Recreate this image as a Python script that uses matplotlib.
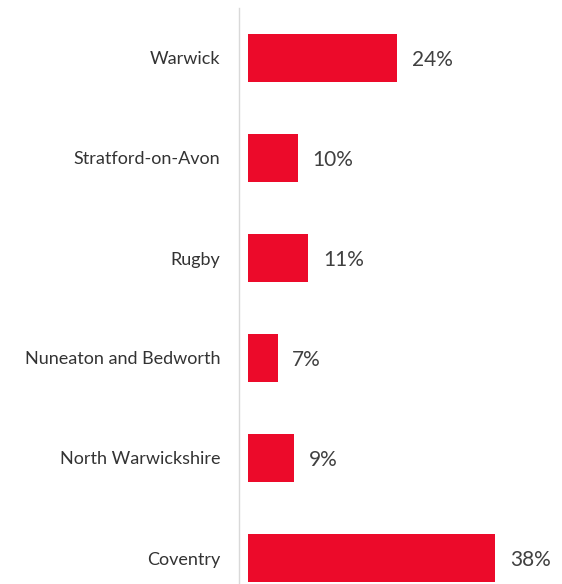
import matplotlib
matplotlib.use('Agg')
import matplotlib.pyplot as plt
from matplotlib.lines import Line2D

# Data (bottom to top)
areas = ['Coventry', 'North Warwickshire', 'Nuneaton and Bedworth',
         'Rugby', 'Stratford-on-Avon', 'Warwick']
values = [38.0, 9.4, 7.0, 11.4, 9.9, 24.0]
labels = ['38%', '9%', '7%', '11%', '10%', '24%']

plt.rcParams['font.family'] = ['Lato', 'DejaVu Sans']

fig = plt.figure(figsize=(5.62, 5.84), dpi=100)
ax = fig.add_axes([248 / 562, 0, 300 / 562, 576 / 584])

y = list(range(len(areas)))
ax.barh(y, values, height=0.48, color='#EC0A2A')

for yi, v, lab in zip(y, values, labels):
    ax.text(v + 2.1, yi - 0.02, lab, va='center', ha='left', fontsize=15, color='#404040')

ax.set_xlim(2.8, 45.5)
ax.set_ylim(-0.26, 5.5)
ax.set_yticks(y)
ax.set_yticklabels(areas, fontsize=13, color='#333333')
ax.tick_params(axis='y', length=0, pad=20)
ax.set_xticks([])
for s in ax.spines.values():
    s.set_visible(False)

# category axis line
fig.add_artist(Line2D([238.5 / 562, 238.5 / 562], [0, 576 / 584],
                      color='#D9D9D9', linewidth=1))

fig.savefig('out.png', dpi=100)
